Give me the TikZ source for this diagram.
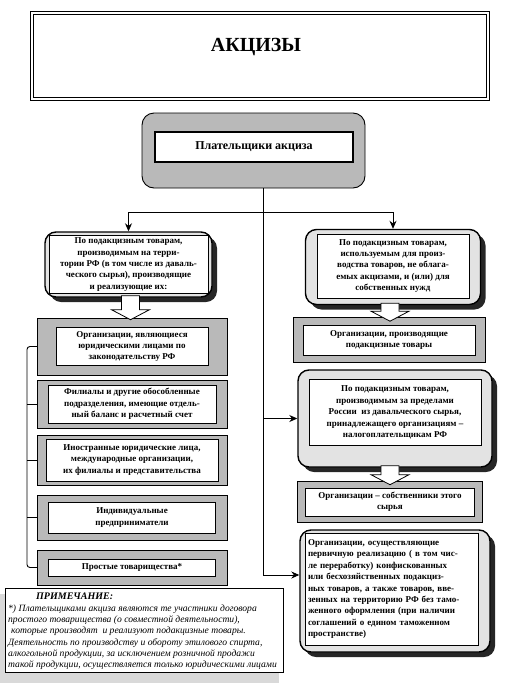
\documentclass[tikz,border=0pt]{standalone}
\usepackage{fontspec}
\setmainfont{Liberation Serif}
\usetikzlibrary{shadows,arrows.meta,calc}

\begin{document}
\begin{tikzpicture}[x=1pt, y=-1pt,
	txt/.style={font=\fontsize{9}{11.4}\selectfont\bfseries},
	inbox/.style={draw, fill=white, line width=0.8pt, align=center, inner sep=1pt, txt},
	grayframe/.style={draw, fill=gray!55, line width=0.5pt},
	roundframe/.style={draw, fill=gray!22, line width=1.4pt, rounded corners=11pt,
		drop shadow={shadow xshift=5pt, shadow yshift=-5pt, fill=black, opacity=0.85}},
	arr/.style={line width=0.9pt, -{Stealth[length=8pt, width=7pt]}},
	pics/hollowdown/.style={code={
		\draw[fill=white, line width=0.8pt, line join=miter]
			(-9,0) -- (-9,#1-10) -- (-19,#1-10) -- (0,#1) -- (19,#1-10) -- (9,#1-10) -- (9,0) -- cycle;
	}}
	]
	\useasboundingbox (0,0) rectangle (513,691);

	% title
	\node[draw, double, double distance=2.5pt, line width=1pt, minimum width=456, minimum height=86] (titlebox) at (260,56) {};
	\node[font=\fontsize{20}{22}\selectfont\bfseries] (title) at (256,47) {АКЦИЗЫ};

	% payers
	\node[draw, fill=gray!55, line width=0.9pt, rounded corners=12pt, minimum width=223, minimum height=75] (payo) at (253.5,150.5) {};
	\node[inbox, line width=1.2pt, minimum width=198, minimum height=30, font=\fontsize{12}{14}\selectfont\bfseries] (pay) at (254,147) {Плательщики акциза};

	% rounded boxes
	\node[roundframe, minimum width=167, minimum height=65] (lb) at (128.5,264.5) {};
	\node[inbox, minimum width=159, minimum height=58] (lbin) at (lb) {По подакцизным товарам,\\ производимым на терри-\\ тории РФ (в том числе из даваль-\\ ческого сырья), производящие\\ и реализующие их:};
	\node[roundframe, minimum width=175, minimum height=75] (r1) at (393,267) {};
	\node[inbox, minimum width=152, minimum height=64] (r1in) at (393,266) {По подакцизным товарам,\\ используемым для произ-\\ водства товаров, не облага-\\ емых акцизами, и (или) для\\ собственных нужд};
	\node[roundframe, minimum width=194, minimum height=97] (r3) at (395,418.5) {};
	\node[inbox, minimum width=172, minimum height=66] (r3in) at (395,412.5) {По подакцизным товарам,\\ производимым за пределами\\ России~ из давальческого сырья,\\ принадлежащего организациям –\\ налогоплательщикам РФ};
	\node[roundframe, minimum width=190, minimum height=122] (r5) at (395,591) {};
	\node[inbox, align=left, text width=167, inner sep=3pt, minimum height=112] (r5in) at (391.5,589) {Организации, осуществляющие\\ первичную реализацию ( в том чис-\\ ле переработку) конфискованных\\ или бесхозяйственных подакциз-\\ ных товаров, а также товаров, вве-\\ зенных на территорию РФ без тамо-\\ женного оформления (при наличии\\ соглашений о едином таможенном\\ пространстве)};

	% gray boxes
	\foreach \n/\y/\h/\iw/\ih/\t in {
		l1/346.5/57/152/38/{Организации, являющиеся\\ юридическими лицами по\\ законодательству РФ},
		l2/404/48/168/38/{Филиалы и другие обособленные\\ подразделения, имеющие отдель-\\ ный баланс и расчетный счет},
		l3/460/50/172/42/{Иностранные юридические лица,\\ международные организации,\\ их филиалы и представительства},
		l4/517.5/45/167/31/{Индивидуальные\\ предприниматели},
		l5/567.5/35/167/17/{Простые товарищества*}}
	{
		\node[grayframe, minimum width=190, minimum height=\h] (\n) at (132,\y) {};
		\node[inbox, minimum width=\iw, minimum height=\ih] (\n in) at (132,\y) {\t};
	}
	\node[grayframe, minimum width=192, minimum height=45] (r2) at (389,340) {};
	\node[inbox, minimum width=172, minimum height=30] (r2in) at (r2) {Организации, производящие\\ подакцизные товары};
	\node[grayframe, minimum width=185, minimum height=41] (r4) at (390,502) {};
	\node[inbox, minimum width=169, minimum height=28] (r4in) at (r4) {Организации – собственники этого\\ сырья};

	% hollow arrows
	\pic at ($(lb.south)+(2,-2)$) {hollowdown=24};
	\pic at ($(r1.south)+(-3,-2)$) {hollowdown=18};
	\pic at ($(r3.south)+(-5,-2)$) {hollowdown=19};

	% bracket
	\coordinate (brk) at (27,0);
	\draw[line width=0.9pt, rounded corners=3pt] (l1.west) -- (l1.west -| brk) -- (l5.west -| brk) -- (l5.west);
	\foreach \n in {l2,l3,l4}
		\draw[line width=0.9pt] (\n.west) -- (\n.west -| brk);

	% spine
	\coordinate (sp1) at (263,212);
	\coordinate (sp5) at (263,575);
	\draw[line width=0.9pt] (sp1 |- payo.south) -- (sp5);
	\draw[arr] (sp1) -| (lb.north);
	\draw[arr] (sp1) -| (r1.north);
	\draw[arr] (sp1 |- r3.west) -- (r3.west);
	\draw[arr] (sp5) -- (sp5 -| r5.west);

	% note
	\fill[gray!30] (0,594) rectangle (279,683);
	\node[draw, line width=1pt, fill=white, anchor=north west, minimum width=278, minimum height=84, inner sep=0pt] (note) at (5,588) {};
	\node[anchor=north west, align=left, inner sep=0pt, font=\fontsize{9.6}{11.3}\selectfont\itshape] (notetxt) at (8,593) {\hspace*{28pt}{\fontsize{10}{11}\selectfont\bfseries ПРИМЕЧАНИЕ:}\\ *) Плательщиками акциза являются те участники договора\\ простого товарищества (о совместной деятельности),\\ \hspace*{3pt}которые производят~ и реализуют подакцизные товары.\\ Деятельность по производству и обороту этилового спирта,\\ алкогольной продукции, за исключением розничной продажи\\ такой продукции, осуществляется только юридическими лицами};
\end{tikzpicture}
\end{document}
